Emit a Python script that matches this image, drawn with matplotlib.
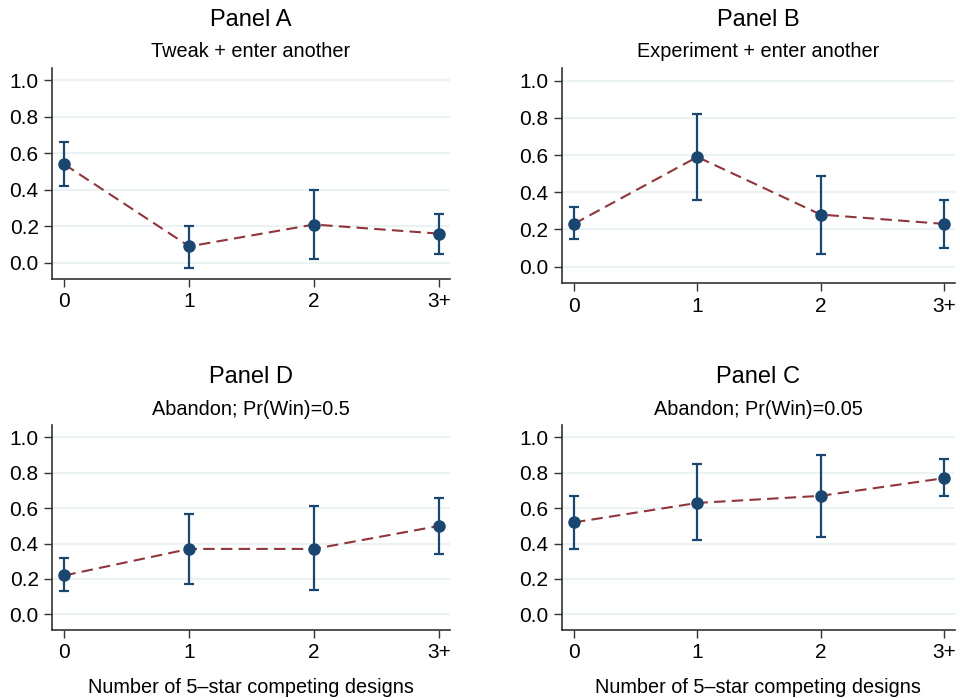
import numpy as np
import matplotlib
matplotlib.use('agg')
from matplotlib import pyplot as plt

plt.rcParams['font.family'] = ['Liberation Sans', 'DejaVu Sans']

categories = ['0', '1', '2', '3+']

# Panel A: Tweak + enter another
a_mean = [0.54, 0.09, 0.21, 0.16]
a_lo = [0.42, -0.03, 0.02, 0.05]
a_hi = [0.66, 0.20, 0.40, 0.27]

# Panel B: Experiment + enter another
b_mean = [0.23, 0.59, 0.28, 0.23]
b_lo = [0.15, 0.36, 0.07, 0.10]
b_hi = [0.32, 0.82, 0.49, 0.36]

# Panel D: Abandon; Pr(Win)=0.5
d_mean = [0.22, 0.37, 0.37, 0.50]
d_lo = [0.13, 0.17, 0.14, 0.34]
d_hi = [0.32, 0.57, 0.61, 0.66]

# Panel C: Abandon; Pr(Win)=0.05
c_mean = [0.52, 0.63, 0.67, 0.77]
c_lo = [0.37, 0.42, 0.44, 0.67]
c_hi = [0.67, 0.85, 0.90, 0.88]

NAVY = '#1a476f'
MAROON = '#90353b'
GRID = '#eaf2f3'


def draw_panel(ax, title, subtitle, mean, lo, hi, xlabel=None):
    x = np.arange(len(categories))
    mean = np.array(mean)
    err = [mean - np.array(lo), np.array(hi) - mean]
    ax.errorbar(x, mean, yerr=err, fmt='none', ecolor=NAVY, elinewidth=1.6,
                capsize=3.3, capthick=1.6, zorder=2)
    ax.plot(x, mean, color=MAROON, linestyle=(0, (5.5, 3)), linewidth=1.5, zorder=3)
    ax.plot(x, mean, 'o', color=NAVY, markersize=8, zorder=4)

    ax.set_xlim(-0.1, 3.09)
    ax.set_ylim(-0.09, 1.07)
    ax.set_xticks(x)
    ax.set_xticklabels(categories, fontsize=15)
    ax.set_yticks([0.0, 0.2, 0.4, 0.6, 0.8, 1.0])
    ax.set_yticklabels(['0.0', '0.2', '0.4', '0.6', '0.8', '1.0'], fontsize=15)
    ax.yaxis.grid(True, color=GRID, linewidth=1.5)
    ax.set_axisbelow(True)
    for s in ['top', 'right']:
        ax.spines[s].set_visible(False)
    for s in ['left', 'bottom']:
        ax.spines[s].set_color('#333333')
        ax.spines[s].set_linewidth(1.2)
    ax.tick_params(direction='out', length=6, width=1.0, color='#333333')

    h = ax.get_position().height * 698
    ax.text(0.5, 1 + 48 / h, title, transform=ax.transAxes, ha='center', va='center', fontsize=17)
    ax.text(0.5, 1 + 16 / h, subtitle, transform=ax.transAxes, ha='center', va='center', fontsize=14.3)
    if xlabel:
        ax.text(0.5, -57 / h, xlabel, transform=ax.transAxes, ha='center', va='center', fontsize=14.3)


fig = plt.figure(figsize=(9.6, 6.98), dpi=100)

ax_a = fig.add_axes([0.054, 0.600, 0.415, 0.303])
ax_b = fig.add_axes([0.585, 0.594, 0.410, 0.309])
ax_d = fig.add_axes([0.054, 0.097, 0.415, 0.294])
ax_c = fig.add_axes([0.585, 0.097, 0.410, 0.294])

xl = 'Number of 5\u2013star competing designs'
draw_panel(ax_a, 'Panel A', 'Tweak + enter another', a_mean, a_lo, a_hi)
draw_panel(ax_b, 'Panel B', 'Experiment + enter another', b_mean, b_lo, b_hi)
draw_panel(ax_d, 'Panel D', 'Abandon; Pr(Win)=0.5', d_mean, d_lo, d_hi, xl)
draw_panel(ax_c, 'Panel C', 'Abandon; Pr(Win)=0.05', c_mean, c_lo, c_hi, xl)

fig.savefig('out.png', dpi=100)
